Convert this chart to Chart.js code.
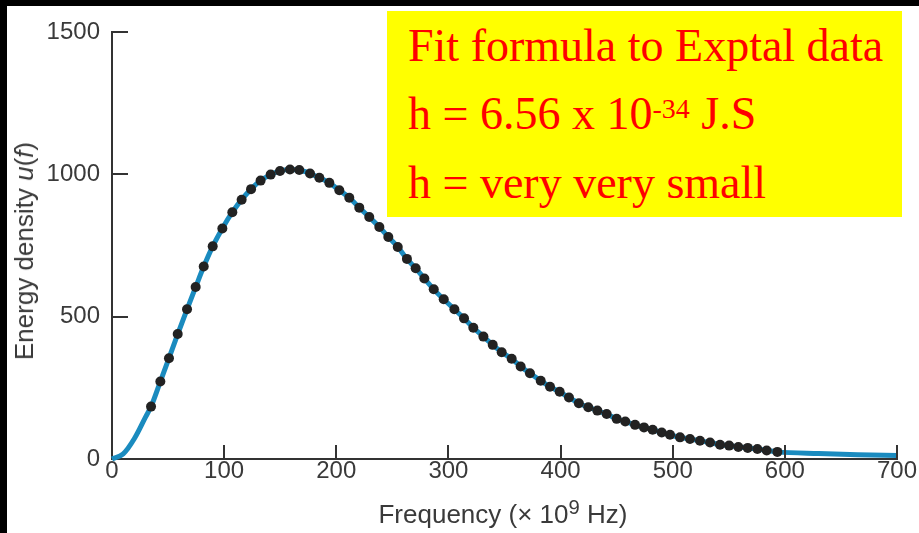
<!DOCTYPE html>
<html>
<head>
<meta charset="utf-8">
<script src="https://cdn.jsdelivr.net/npm/chart.js@4/dist/chart.umd.min.js"></script>
<style>
  body { margin: 0; background: #fff; }
  #wrap { position: relative; width: 919px; height: 533px; overflow: hidden; background: #fff; }
  canvas { position: absolute; left: 0; top: 0; }
  .bar { position: absolute; background: #000; }
  .axis-title { position: absolute; font-family: "Liberation Sans", Arial, sans-serif; font-size: 26px; line-height: 26px; color: #3a3a3a; white-space: nowrap; }
  .axis-title sup { font-size: 0.78em; vertical-align: 0.42em; line-height: 0; }
  #note { position: absolute; left: 387px; top: 11px; width: 515px; height: 206px; background: #ffff00; }
  #note div { position: absolute; left: 21px; font-family: "Liberation Serif", "Times New Roman", serif; font-size: 46px; line-height: 46px; color: #ff0000; white-space: nowrap; }
  #note sup { font-size: 28px; vertical-align: 11px; line-height: 0; }
</style>
</head>
<body>
<div id="wrap">
  <canvas id="chart" width="919" height="533"></canvas>
  <div class="bar" style="left:0;top:0;width:919px;height:6px"></div>
  <div class="bar" style="left:0;top:0;width:7px;height:533px"></div>
  <div class="axis-title" id="ytitle" style="left:24px;top:251px;transform:translate(-50%,-50%) rotate(-90deg)">Energy density <i>u</i>(<i>f</i>)</div>
  <div class="axis-title" id="xtitle" style="left:503px;top:501px;transform:translateX(-50%)">Frequency (× 10<sup>9</sup> Hz)</div>
  <div id="note">
    <div style="top:12px">Fit formula to Exptal data</div>
    <div style="top:80px">h = 6.56 x 10<sup>-34</sup> J.S</div>
    <div style="top:149px">h = very very small</div>
  </div>
</div>
<script>
// measured points (frequency x 10^9 Hz, energy density)
const dotFreq = [34.8, 43.1, 50.8, 58.6, 66.9, 74.6, 81.8, 89.8, 98.4, 107.3, 115.6, 124.0, 132.5,
  141.5, 149.8, 158.7, 167.0, 176.6, 184.9, 193.8, 202.7, 211.6, 220.5, 229.4, 238.4, 246.4, 254.8, 263.0, 270.8,
  278.5, 286.9, 295.8, 305.3, 313.9, 322.2, 331.2, 339.5, 347.5, 356.4, 364.4, 372.7, 382.3, 390.6, 399.2, 407.5, 416.3,
  424.7, 432.8, 441.1, 450.0, 457.7, 466.4, 474.4, 482.1, 490.2, 497.6, 506.5, 515.4, 524.3, 533.3, 542.2, 550.3,
  558.5, 566.9, 575.5, 583.8, 593.3];
const dotEnergy = [184, 272, 354, 439, 526, 604, 676, 747, 810, 867, 911, 948, 978,
  999, 1012, 1017, 1015, 1003, 988, 970, 944, 918, 883, 850, 815, 780, 745, 703, 670,
  634, 596, 561, 526, 494, 461, 430, 401, 375, 352, 325, 301, 275, 254, 236, 216, 196,
  182, 170, 158, 141, 132, 120, 111, 103, 93, 85, 76, 70, 64, 58, 50, 47,
  42, 39, 35, 30, 25];

// fitted curve ends, outside the measured range
const curveHeadFreq = [0, 10, 20, 30];
const curveHeadEnergy = [0, 18, 72, 148];
const curveTailFreq = [630, 665, 700];
const curveTailEnergy = [19, 15, 12];

const xTicks = [0, 100, 200, 300, 400, 500, 600, 700];
const yTicks = [0, 500, 1000, 1500];

const toPoints = (xs, ys) => xs.map((x, i) => ({ x: x, y: ys[i] }));

const dots = toPoints(dotFreq, dotEnergy);
const curve = toPoints(curveHeadFreq.concat(dotFreq, curveTailFreq), curveHeadEnergy.concat(dotEnergy, curveTailEnergy));

const axisColor = '#333';

// tick marks pointing into the plot
const innerTicks = {
  id: 'innerTicks',
  afterDatasetsDraw(chart) {
    const { ctx, scales: { x, y } } = chart;
    ctx.save();
    ctx.strokeStyle = axisColor;
    ctx.lineWidth = 2;
    ctx.beginPath();
    x.ticks.forEach(t => {
      if (t.value === 0) return;
      const px = Math.round(x.getPixelForValue(t.value));
      ctx.moveTo(px, y.bottom);
      ctx.lineTo(px, y.bottom - 14);
    });
    y.ticks.forEach(t => {
      if (t.value === 0) return;
      const py = Math.round(y.getPixelForValue(t.value));
      ctx.moveTo(x.left, py);
      ctx.lineTo(x.left + 16, py);
    });
    ctx.stroke();
    ctx.restore();
  }
};

const tickFont = { family: '"Liberation Sans", Arial, sans-serif', size: 24, lineHeight: 1 };

new Chart(document.getElementById('chart'), {
  type: 'scatter',
  data: {
    datasets: [
      {
        label: 'data',
        data: dots,
        pointRadius: 5,
        pointBackgroundColor: '#222',
        pointBorderWidth: 0,
        showLine: false,
        clip: false
      },
      {
        label: 'fit',
        data: curve,
        showLine: true,
        borderColor: '#1a8bbf',
        borderWidth: 5,
        pointRadius: 0,
        cubicInterpolationMode: 'monotone',
        clip: false
      }
    ]
  },
  options: {
    responsive: false,
    animation: false,
    layout: { padding: { left: 0, top: 32, right: 22, bottom: 0 } },
    plugins: { legend: { display: false }, tooltip: { enabled: false } },
    scales: {
      x: {
        type: 'linear',
        min: 0,
        max: 700,
        afterBuildTicks: s => { s.ticks = xTicks.map(v => ({ value: v })); },
        afterFit: s => { s.height = 74; },
        grid: { display: false, drawTicks: false },
        border: { display: true, color: axisColor, width: 2 },
        ticks: { font: tickFont, color: '#3a3a3a', padding: 0, maxRotation: 0, callback: v => String(v) }
      },
      y: {
        min: 0,
        max: 1500,
        afterBuildTicks: s => { s.ticks = yTicks.map(v => ({ value: v })); },
        afterFit: s => { s.width = 112; },
        grid: { display: false, drawTicks: false },
        border: { display: true, color: axisColor, width: 2 },
        ticks: { font: tickFont, color: '#3a3a3a', padding: 12, callback: v => String(v) }
      }
    }
  },
  plugins: [innerTicks]
});
</script>
</body>
</html>
